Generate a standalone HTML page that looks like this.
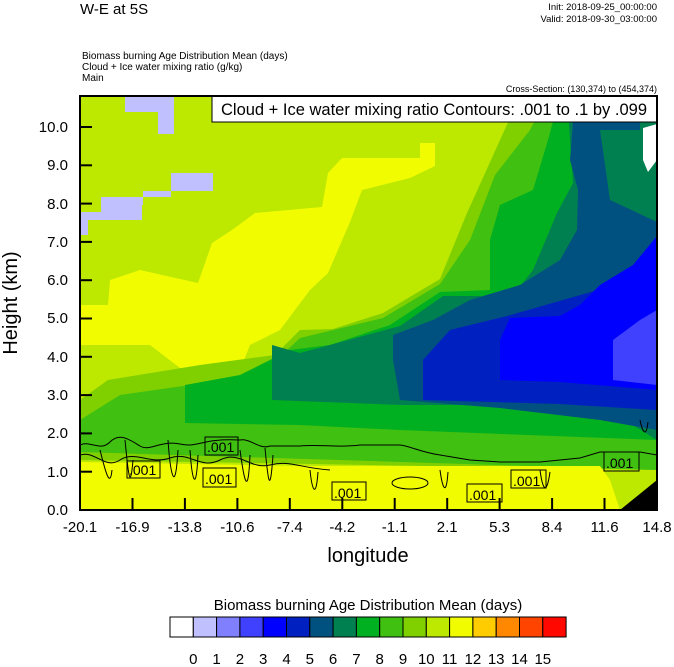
<!DOCTYPE html>
<html><head><meta charset="utf-8"><style>
html,body{margin:0;padding:0;background:#fff;}
svg{display:block;font-family:"Liberation Sans",sans-serif;}
</style></head><body>
<svg width="674" height="667" viewBox="0 0 674 667" xmlns="http://www.w3.org/2000/svg">
<rect width="674" height="667" fill="#fff"/>
<text x="80" y="14" font-size="15">W-E at 5S</text>
<text x="657" y="10" font-size="9.5" text-anchor="end">Init: 2018-09-25_00:00:00</text>
<text x="657" y="22" font-size="9.5" text-anchor="end">Valid: 2018-09-30_03:00:00</text>
<text x="82" y="59" font-size="10">Biomass burning Age Distribution Mean   (days)</text>
<text x="82" y="70" font-size="10">Cloud + Ice water mixing ratio   (g/kg)</text>
<text x="82" y="81" font-size="10">Main</text>
<text x="657" y="92" font-size="9" text-anchor="end">Cross-Section: (130,374) to (454,374)</text>
<defs><clipPath id="c"><rect x="80" y="96" width="577" height="414"/></clipPath></defs>
<g clip-path="url(#c)">
<rect x="80" y="96" width="577" height="414" fill="#bde800"/>
<polygon fill="#c0c0ff" points="80,212 101,212 101,197 171,197 171,173 213,173 213,191 143,191 143,205 142,205 142,220 88,220 88,235 80,235"/>
<polygon fill="#c0c0ff" points="125,96 174,96 174,134 158,134 158,112 125,112"/>
<polygon fill="#f2fc00" points="328,173 342,158 420,158 420,143 435,143 435,166 410,178 362,190 350,222 328,273 310,290 280,330 250,345 240,370 180,368 150,345 110,345 80,345 80,305 108,305 110,280 140,270 198,283 212,243 232,230 255,213 322,207"/>
<polygon fill="#80d000" points="520,96 657,96 657,470 80,460 80,400 108,380 200,365 275,355 300,330 333,329 383,313 440,279 467,213 500,140"/>
<polygon fill="#40c010" points="548,96 657,96 657,470 80,452 80,420 120,395 260,375 300,338 383,318 440,284 470,240 495,175 530,130"/>
<polygon fill="#00b020" points="560,96 657,96 657,440 400,430 300,425 185,423 185,385 240,375 290,350 330,345 390,325 440,292 490,290 490,240 500,205 533,190 548,140"/>
<polygon fill="#008050" points="567,96 657,96 657,440 600,405 400,405 272,400 272,345 300,353 400,326 443,296 480,296 507,303 533,270 557,213 573,183"/>
<polygon fill="#005080" points="575,96 640,96 640,180 657,200 657,430 600,420 500,408 400,400 393,360 393,335 433,320 470,300 520,285 560,260 577,230 578,190 570,160"/>
<polygon fill="#008050" points="600,130 640,130 657,180 657,222 610,200"/>
<polygon fill="#0020c0" points="450,330 507,316 577,296 647,276 657,260 657,410 560,404 423,400 423,360"/>
<polygon fill="#0000ff" points="657,236 633,265 600,285 580,305 560,316 510,318 500,340 500,380 560,382 657,390"/>
<polygon fill="#4040ff" points="657,310 640,320 613,340 613,380 657,385"/>
<polygon fill="#fff" points="643,128 657,124 657,160 648,172 643,160"/>
<polygon fill="#00b020" points="647,96 657,96 657,112 650,110"/>
<polygon fill="#f2fc00" points="80,462 300,466 600,466 610,480 620,510 80,510"/>
<polygon fill="#000" points="620,510 657,480 657,510"/>
<g fill="none" stroke="#000" stroke-width="1">
<path d="M80,445 C90,440 100,452 110,442 S130,440 140,446 160,440 180,444 200,438 240,440 C250,438 260,450 270,446 L300,446 C320,444 340,448 360,445 L400,445 C410,446 420,452 440,455 L470,460 500,462 540,462 580,458 600,452 640,452 657,455"/>
<path d="M80,455 C95,450 105,470 120,460 S150,465 170,458 200,470 220,460 250,470 270,465 300,468 330,470 360,480 C380,482 400,478 430,480 C460,470 480,478 500,475 530,478 560,470 590,468 620,462 657,470"/>
<path d="M100,450 C105,470 110,490 112,470 M125,440 C128,470 130,495 133,460 M168,440 C170,470 175,500 178,450 M190,450 C192,480 196,495 198,455 M240,450 C244,480 248,500 250,455 M265,448 C268,480 270,498 273,455 M310,470 C312,490 316,500 318,472 M440,470 C442,485 446,500 448,472 M540,470 C542,485 546,500 550,472 M640,420 C642,430 646,440 648,422"/>
<ellipse cx="410" cy="483" rx="18" ry="6"/>
</g>
</g>
<g font-size="14" fill="#000">
<rect x="205" y="437" width="33" height="18" fill="none" stroke="#000"/><text x="207" y="452">.001</text>
<rect x="127" y="461" width="33" height="17" fill="none" stroke="#000"/><text x="129" y="475">.001</text>
<rect x="203" y="468" width="33" height="19" fill="none" stroke="#000"/><text x="205" y="484">.001</text>
<rect x="332" y="482" width="34" height="18" fill="none" stroke="#000"/><text x="334" y="498">.001</text>
<rect x="467" y="484" width="35" height="18" fill="none" stroke="#000"/><text x="469" y="500">.001</text>
<rect x="511" y="470" width="35" height="18" fill="none" stroke="#000"/><text x="513" y="486">.001</text>
<rect x="604" y="452" width="35" height="19" fill="none" stroke="#000"/><text x="606" y="468">.001</text>
</g>
<rect x="212" y="96" width="445" height="26" fill="#fff" stroke="#000"/>
<text x="434" y="115" font-size="16.5" text-anchor="middle">Cloud + Ice water mixing ratio Contours: .001 to .1 by .099</text>
<rect x="80" y="96" width="577" height="414" fill="none" stroke="#000" stroke-width="2"/>
<g stroke="#000" stroke-width="2">
<line x1="80" y1="510" x2="92" y2="510"/><line x1="80" y1="471.7" x2="92" y2="471.7"/><line x1="80" y1="433.4" x2="92" y2="433.4"/><line x1="80" y1="395.1" x2="92" y2="395.1"/><line x1="80" y1="356.8" x2="92" y2="356.8"/><line x1="80" y1="318.5" x2="92" y2="318.5"/><line x1="80" y1="280.2" x2="92" y2="280.2"/><line x1="80" y1="241.9" x2="92" y2="241.9"/><line x1="80" y1="203.6" x2="92" y2="203.6"/><line x1="80" y1="165.3" x2="92" y2="165.3"/><line x1="80" y1="127" x2="92" y2="127"/>
<line x1="132.5" y1="510" x2="132.5" y2="498"/><line x1="184.9" y1="510" x2="184.9" y2="498"/><line x1="237.4" y1="510" x2="237.4" y2="498"/><line x1="289.8" y1="510" x2="289.8" y2="498"/><line x1="342.3" y1="510" x2="342.3" y2="498"/><line x1="394.7" y1="510" x2="394.7" y2="498"/><line x1="447.2" y1="510" x2="447.2" y2="498"/><line x1="499.6" y1="510" x2="499.6" y2="498"/><line x1="552.1" y1="510" x2="552.1" y2="498"/><line x1="604.5" y1="510" x2="604.5" y2="498"/>
</g>
<g font-size="15" text-anchor="end">
<text x="68" y="515">0.0</text><text x="68" y="477">1.0</text><text x="68" y="438">2.0</text><text x="68" y="400">3.0</text><text x="68" y="362">4.0</text><text x="68" y="323">5.0</text><text x="68" y="285">6.0</text><text x="68" y="247">7.0</text><text x="68" y="209">8.0</text><text x="68" y="170">9.0</text><text x="68" y="132">10.0</text>
</g>
<g font-size="15" text-anchor="middle">
<text x="80" y="532">-20.1</text><text x="132.5" y="532">-16.9</text><text x="184.9" y="532">-13.8</text><text x="237.4" y="532">-10.6</text><text x="289.8" y="532">-7.4</text><text x="342.3" y="532">-4.2</text><text x="394.7" y="532">-1.1</text><text x="447.2" y="532">2.1</text><text x="499.6" y="532">5.3</text><text x="552.1" y="532">8.4</text><text x="604.5" y="532">11.6</text><text x="657" y="532">14.8</text>
</g>
<text x="368" y="562" font-size="20" text-anchor="middle">longitude</text>
<text transform="translate(17,303) rotate(-90)" font-size="20" text-anchor="middle">Height (km)</text>
<text x="368" y="610" font-size="15" text-anchor="middle">Biomass burning Age Distribution Mean  (days)</text>
<g stroke="#000" stroke-width="1">
<rect x="170" y="617" width="23.3" height="20" fill="#fff"/>
<rect x="193.3" y="617" width="23.3" height="20" fill="#c0c0ff"/>
<rect x="216.6" y="617" width="23.3" height="20" fill="#8080ff"/>
<rect x="239.9" y="617" width="23.3" height="20" fill="#4040ff"/>
<rect x="263.2" y="617" width="23.3" height="20" fill="#0000ff"/>
<rect x="286.5" y="617" width="23.3" height="20" fill="#0020c0"/>
<rect x="309.8" y="617" width="23.3" height="20" fill="#005080"/>
<rect x="333.1" y="617" width="23.3" height="20" fill="#008050"/>
<rect x="356.4" y="617" width="23.3" height="20" fill="#00b020"/>
<rect x="379.7" y="617" width="23.3" height="20" fill="#40c010"/>
<rect x="403" y="617" width="23.3" height="20" fill="#80d000"/>
<rect x="426.3" y="617" width="23.3" height="20" fill="#bde800"/>
<rect x="449.6" y="617" width="23.3" height="20" fill="#f2fc00"/>
<rect x="472.9" y="617" width="23.3" height="20" fill="#ffcc00"/>
<rect x="496.2" y="617" width="23.3" height="20" fill="#ff8800"/>
<rect x="519.5" y="617" width="23.3" height="20" fill="#ff4400"/>
<rect x="542.8" y="617" width="23.3" height="20" fill="#ff0800"/>
</g>
<g font-size="15" text-anchor="middle">
<text x="193.3" y="664">0</text><text x="216.6" y="664">1</text><text x="239.9" y="664">2</text><text x="263.2" y="664">3</text><text x="286.5" y="664">4</text><text x="309.8" y="664">5</text><text x="333.1" y="664">6</text><text x="356.4" y="664">7</text><text x="379.7" y="664">8</text><text x="403" y="664">9</text><text x="426.3" y="664">10</text><text x="449.6" y="664">11</text><text x="472.9" y="664">12</text><text x="496.2" y="664">13</text><text x="519.5" y="664">14</text><text x="542.8" y="664">15</text>
</g>
</svg>
</body></html>
